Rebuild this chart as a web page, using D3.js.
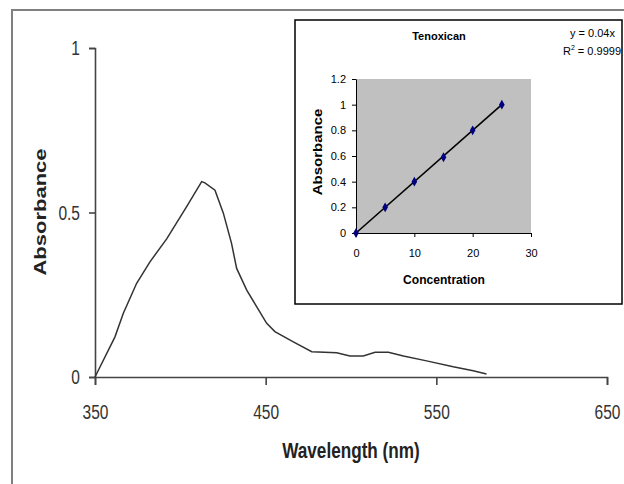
<!DOCTYPE html>
<html>
<head>
<meta charset="utf-8">
<script src="https://cdn.jsdelivr.net/npm/d3@7"></script>
<style>
  body { margin: 0; background: #fff; }
  svg { display: block; font-family: "Liberation Sans", Arial, sans-serif; }
</style>
</head>
<body>
<svg width="624" height="484"></svg>
<script>
// spectrum of tenoxican
var wavelength = [350, 361.7, 366.6, 374.4, 382.2, 392, 403.7, 412.5, 414.4, 420.3, 425.2, 430, 433,
                  438.9, 444.7, 450.6, 455.4, 466.2, 477, 491.6, 499.4, 507.2, 514.1, 521.9, 530.7,
                  544.3, 559.9, 571.6, 579.4];
var absorb = [0, 0.122, 0.194, 0.285, 0.35, 0.42, 0.518, 0.594, 0.59, 0.568, 0.498, 0.406, 0.33,
              0.264, 0.214, 0.163, 0.138, 0.107, 0.077, 0.074, 0.064, 0.064, 0.075, 0.075, 0.064,
              0.049, 0.031, 0.019, 0.009];
var xTicks = [350, 450, 550, 650];
var yTicks = [0, 0.5, 1];

// calibration curve (inset)
var conc = [0, 5, 10, 15, 20, 25];
var concAbs = [0, 0.2, 0.4, 0.59, 0.8, 1.0];
var insetXTicks = [0, 10, 20, 30];
var insetYTicks = [0, 0.2, 0.4, 0.6, 0.8, 1, 1.2];
var slope = 0.04;
var r2 = 0.9999;

var svg = d3.select("svg");
var narrow = 0.74;   // the original picture is squeezed sideways

// outer frame (cut off on the right and bottom)
svg.append("rect")
    .attr("x", 12).attr("y", 10).attr("width", 700).attr("height", 600)
    .attr("fill", "none").attr("stroke", "#808080").attr("stroke-width", 2);

// ---- main chart ----
var x = d3.scaleLinear().domain([350, 650]).range([95, 607]);
var y = d3.scaleLinear().domain([0, 1]).range([377, 48]);

var gx = svg.append("g").attr("transform", "translate(0," + y(0) + ")")
    .call(d3.axisBottom(x).tickValues(xTicks).tickSize(8).tickPadding(19).tickFormat(d3.format("d")));
var gy = svg.append("g").attr("transform", "translate(" + x(350) + ",0)")
    .call(d3.axisLeft(y).tickValues(yTicks).tickSize(6).tickPadding(9).tickFormat(function(d) { return d; }));

[gx, gy].forEach(function(g) {
    g.select(".domain").attr("stroke", "#444").attr("stroke-width", 1.6);
    g.selectAll(".tick line").attr("stroke", "#444").attr("stroke-width", 1.6);
    g.selectAll(".tick text").attr("font-size", 21).attr("fill", "#333")
        .attr("font-family", "Liberation Sans, Arial, sans-serif");
});
gx.selectAll(".tick text").attr("transform", "scale(" + narrow + ",1)");
gy.selectAll(".tick text").attr("x", -15 / narrow).attr("transform", "scale(" + narrow + ",1)");

var line = d3.line().x(function(d, i) { return x(wavelength[i]); }).y(function(d) { return y(d); });
svg.append("path").datum(absorb)
    .attr("d", line).attr("fill", "none").attr("stroke", "#333").attr("stroke-width", 1.5);

svg.append("text").text("Wavelength (nm)")
    .attr("transform", "translate(351,458) scale(0.78,1)")
    .attr("text-anchor", "middle")
    .attr("font-size", 22).attr("font-weight", "bold").attr("fill", "#222");

svg.append("text").text("Absorbance")
    .attr("transform", "translate(46,212) rotate(-90) scale(1,0.78)")
    .attr("text-anchor", "middle")
    .attr("font-size", 22).attr("font-weight", "bold").attr("fill", "#222");

// ---- inset ----
svg.append("rect")
    .attr("x", 295).attr("y", 20).attr("width", 327).attr("height", 284)
    .attr("fill", "#fff").attr("stroke", "#000").attr("stroke-width", 1.5);

var ix = d3.scaleLinear().domain([0, 30]).range([356, 531]);
var iy = d3.scaleLinear().domain([0, 1.2]).range([233, 79]);

svg.append("rect")
    .attr("x", ix(0)).attr("y", iy(1.2)).attr("width", ix(30) - ix(0)).attr("height", iy(0) - iy(1.2))
    .attr("fill", "#c0c0c0");

var igx = svg.append("g").attr("transform", "translate(0," + iy(0) + ")")
    .call(d3.axisBottom(ix).tickValues(insetXTicks).tickSize(4).tickPadding(12).tickSizeOuter(0));
var igy = svg.append("g").attr("transform", "translate(" + ix(0) + ",0)")
    .call(d3.axisLeft(iy).tickValues(insetYTicks).tickSize(4).tickPadding(6).tickSizeOuter(0)
        .tickFormat(function(d) { return d; }));

[igx, igy].forEach(function(g) {
    g.select(".domain").attr("stroke", "#000").attr("stroke-width", 1);
    g.selectAll(".tick line").attr("stroke", "#000");
    g.selectAll(".tick text").attr("font-size", 11).attr("fill", "#000")
        .attr("font-family", "Liberation Sans, Arial, sans-serif");
});

svg.append("line")
    .attr("x1", ix(0)).attr("y1", iy(0))
    .attr("x2", ix(conc[conc.length - 1])).attr("y2", iy(slope * conc[conc.length - 1]))
    .attr("stroke", "#000").attr("stroke-width", 1.6);

svg.append("g").selectAll("path")
    .data(concAbs)
    .join("path")
    .attr("transform", function(d, i) { return "translate(" + ix(conc[i]) + "," + iy(d) + ")"; })
    .attr("d", d3.symbol(d3.symbolDiamond, 28))
    .attr("fill", "#000080");

svg.append("text").text("Tenoxican")
    .attr("x", 439).attr("y", 40).attr("text-anchor", "middle")
    .attr("font-size", 11).attr("font-weight", "bold");

svg.append("text").text("Concentration")
    .attr("transform", "translate(444,284) scale(0.93,1)")
    .attr("text-anchor", "middle")
    .attr("font-size", 13).attr("font-weight", "bold");

svg.append("text").text("Absorbance")
    .attr("transform", "translate(322,152) rotate(-90) scale(1,0.8)")
    .attr("text-anchor", "middle")
    .attr("font-size", 15).attr("font-weight", "bold");

svg.append("text").text("y = " + slope + "x")
    .attr("x", 615).attr("y", 37).attr("text-anchor", "end").attr("font-size", 11);

var rt = svg.append("text").attr("x", 621).attr("y", 55).attr("text-anchor", "end").attr("font-size", 11);
rt.append("tspan").text("R");
rt.append("tspan").text("2").attr("font-size", 7).attr("dy", -5);
rt.append("tspan").text(" = " + r2).attr("dy", 5);
</script>
</body>
</html>
